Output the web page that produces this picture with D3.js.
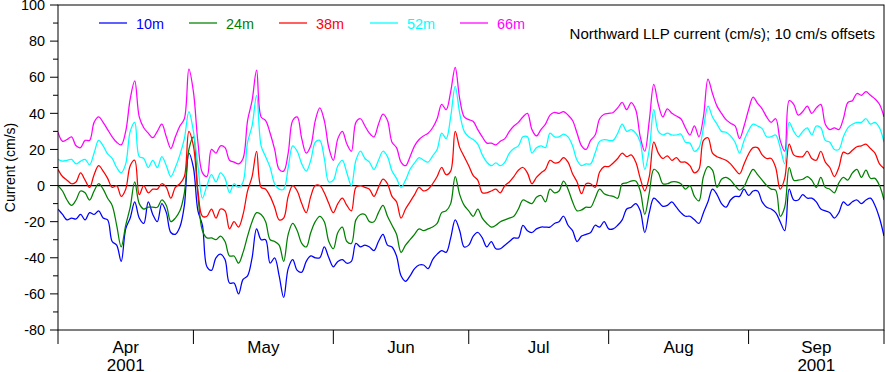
<!DOCTYPE html>
<html><head><meta charset="utf-8">
<script src="https://cdn.jsdelivr.net/npm/d3@7/dist/d3.min.js"></script>
<style>
body{margin:0;background:#fff}
text{font-family:"Liberation Sans",Arial,Helvetica,sans-serif}
</style>
</head><body>
<svg id="chart" width="885" height="372"></svg>
<script>
// Daily northward current as plotted (cm/s), each deeper series offset by +10 cm/s, starting 2001-04-01
const depths = ["10m","24m","38m","52m","66m"];
const colors = ["#0000ff","#008000","#ff0000","#00ffff","#ff00ff"];
const startDate = "2001-04-01";
const endDate = "2001-10-01";

const v10m = [
-13,-16,-19,-18,-18.5,-16,-19,-15,-16,-14,
-18,-19,-31,-33,-42,-24,-18,-9,-18,-21,
-9,-16,-20,-10,-15,-26,-27,-23,-11,18,
10,-14,-22,-45,-47,-40,-38,-41,-54,-54,
-60,-52,-50,-40,-24,-30,-30,-43,-40,-50,
-62,-46,-41,-47,-48,-42,-39,-40,-40,-34,
-40,-45,-42,-41,-43,-42,-32,-34,-33,-34,
-36,-31,-27,-33,-34,-39,-50,-53,-50,-46,
-44,-44,-46,-41,-38,-36,-37,-29,-19,-25,
-34,-33,-28,-26,-29,-34,-31,-35,-35,-33,
-31,-29,-29,-22,-25,-26,-24,-23,-23,-23,
-21,-20,-17,-22,-25,-31,-28,-27,-26,-22,
-23,-20,-24,-24,-22,-19,-13,-12,-10,-14,
-26,-15,-7,-9,-11.5,-11,-9,-12,-15,-17,
-17,-19,-21,-15,-9,-2,-5,-10,-12,-8,
-6,-6,-2,-5.5,-3,-3,-9,-12,-13,-15,
-20,-25,-2,-8,-8,-5,-7,-7,-9,-13,
-14,-15,-18,-15,-9,-11,-9,-8,-10,-8,
-7,-11,-18,-28];

const v24m = [
0,-3,-8,-11,-8,-3,-4,-8,-3,1,
-2,-7,-11,-22,-34,-22,-12,2,-10,-13,
-12,-12,-12,-8,-11,-20,-18,-14,-4,20,
27,-5,-25,-29,-29,-30,-28,-31,-39,-39,
-43,-37,-28,-20,-15,-16,-20,-30,-31,-33,
-42,-27,-21,-25,-32,-34,-26,-20,-17,-20,
-31,-35,-26,-23,-31,-32,-19,-16,-16,-20,
-20,-15,-11,-17,-22,-27,-37,-33,-30,-27,
-24,-25,-24,-23,-21,-15,-14,-10,5,-5,
-11,-14,-17,-13,-18,-21,-23,-22,-20,-19,
-18,-17,-13,-8,-9,-10,-6.5,-5.5,-9,-2,
-4,-3,2.5,-2,-9,-14,-13.5,-12,-12,-7,
-2,-4.5,-5.5,-6,-7,1,1.5,2.5,2.5,-3,
-16,-4,9,7,1,1,2,2,1,-2,
0,-6,-8.5,5,10.5,8.5,-1,3.5,4.5,3,
0,-2.5,-0.5,5,9,6,3,0,-2,-2.5,
-17,-12,10,3,3,3.5,5,3,-1,4.5,
-1,-2,-4,1.5,4.5,3,7,9,4.5,8.5,
4,4,0,-8];

const v38m = [
9,5,3,1,2,7,3,-1,6,11,
8,4,-1,0,-6,-2,11,14,-5,0,
-4,-2,-2,1,-1,-7,-1,1,5,30,
22,-3,-17,-17,-13,-18,-13,-14,-24,-20,
-23,-16,-3,5,19,-1,-2,-6,-12,-19,
-18,-6,0,-3,-10,-15,-6,0,0,-4,
-10,-15,-10,-7,-11,-14,-1,0,-1,-2,
-6,-1,3.5,1,-6,-9,-18,-13,-9,-5,
-1,-3,-2,1,5,10,6,8,30,21,
16,11,5.5,3,-4,-4,-3,-2,-4,0,
2,5,8.5,10,7,1,4.5,7,9,14,
12.5,13,15.5,13,6.5,2,-4.5,1,1,-1,
7.5,10.5,10.5,12.5,15,18,16,17,13,4,
-3,5,24,18,15,16.5,14,15.5,13,13,
11,7,9,25,26.5,18,16,15,14,12,
9,6.5,12,17.5,21,21,17,15,15,10,
-2,4,23,17,16,16,19,15,14,19,
13,10,5,10,18.5,17.5,19.5,21.5,22,23,
20.5,18,12,9.5];

const v52m = [
14.5,13.5,14,14.5,12,13.5,14.5,11.5,18,25,
22,17.5,15,10,7,12,30,35,16,15,
10,14,10,16,11,5,10,17,26,41,
30,11,-7,0,6,2,7,4,-4,1,
-1,2,24,33,50,22,16,10,1,-2,
-2,10,22,19,12,8,14,24,25,15,
2,3,11,14,7,0,14,19,15,13,
9,14,19,16,8,4,-1,3,9,12.5,
15.5,14,13,16.5,20,29,26,38,55,40,
30,27,25.5,23,17,13,11,12.5,11,13,
18,20.5,22,27,27,18,21,22,21,29,
27,27,28.5,27,22,14,11,12,12,18,
24.5,25.5,25,25,29,34,30,31,29,24,
9,20,42,30,28,29,28,28,28.5,24,
23.5,19,21,32,44,38,34,30,29.5,27.5,
24,18,25,30.5,34,33,31.5,27,27,28,
21,12,35,30,27,30,32,28,33,32,
25,24,20,20,27,32,34,35,35,37,
34,35,32,24];

const v66m = [
29.5,24.5,25.5,27,22,21,25,25,35,38,
35,31,27,24,22.5,30,48,58,38,32,
29,26.5,30,34,27,20.5,27,33,37,64.5,
52,24,7,5,20,18,22,21,14,13,
12,15,36,47,64,38,36,29,20,9,
8,18,36,38,26,18,22,36,43,36,
21,14,26,30,23,19,35,37,33,29,
27,34,39.5,36,24,21,13,11,16,22,
25.5,27.5,29,32,37,45,42,52,65.5,48,
38,36.5,35.5,31,27,23.5,23.5,22.5,24.5,26,
30,33,35,38,40,31,27.5,31,34,39,
40.5,40,41,39,36,29,22,20,25,28,
37,39.5,40,40.5,43,46,42,46,42,27,
19,36,56,45,38,42.5,40,38.5,37,32,
28,33,27,38,59,51,44,40,36.5,34.5,
33,26,33,42,49,45.5,42.5,38,35,37,
25,19,47,45,39,41,44,40,43,45,
34,31,32,31,37,46,47,51,50,52,
50,48,45,38];

const seriesValues = [v10m, v24m, v38m, v52m, v66m];
const yMajorTicks = [-80,-60,-40,-20,0,20,40,60,80,100];
const yMinorTicks = [-70,-50,-30,-10,10,30,50,70,90];
const monthLabels = ["Apr","May","Jun","Jul","Aug","Sep"];
const yearLabel = "2001";
const yearUnder = ["Apr","Sep"];
const titleText = "Northward LLP current (cm/s); 10 cm/s offsets";
const yTitle = "Current (cm/s)";

const svg = d3.select("#chart");
const W = 885, H = 372;
const L = 58, R = 884, T = 5, B = 330;
svg.append("rect").attr("width",W).attr("height",H).attr("fill","#fff");

const t0 = new Date(startDate + "T00:00:00Z"), t1 = new Date(endDate + "T00:00:00Z");
const x = d3.scaleUtc().domain([t0,t1]).range([L,R]);
const y = d3.scaleLinear().domain([-80,100]).range([B,T]);
const dayDate = i => d3.utcDay.offset(t0, i);

// zero line
svg.append("line").attr("x1",L).attr("x2",R).attr("y1",y(0)).attr("y2",y(0))
  .attr("stroke","#000").attr("stroke-width",1.2);

// series
const lineGen = d3.line().x((d,i)=>x(dayDate(i))).y(d=>y(d)).curve(d3.curveCatmullRom.alpha(0.5));
svg.append("clipPath").attr("id","clp").append("rect")
  .attr("x",L).attr("y",T).attr("width",R-L).attr("height",B-T);
seriesValues.forEach((vals,k)=>{
  svg.append("path").attr("d",lineGen(vals)).attr("fill","none")
    .attr("stroke",colors[k]).attr("stroke-width",1.25).attr("clip-path","url(#clp)");
});

// frame
svg.append("rect").attr("x",L).attr("y",T).attr("width",R-L).attr("height",B-T)
  .attr("fill","none").attr("stroke","#000").attr("stroke-width",1);

// y axis
const yAxis = svg.append("g");
yMajorTicks.forEach(v=>{
  yAxis.append("line").attr("x1",L-8).attr("x2",L).attr("y1",y(v)).attr("y2",y(v)).attr("stroke","#000");
  yAxis.append("text").attr("x",L-13).attr("y",y(v)).attr("dy","0.36em")
    .attr("text-anchor","end").attr("font-size",14.4).attr("fill","#000").text(v);
});
yMinorTicks.forEach(v=>{
  yAxis.append("line").attr("x1",L-5).attr("x2",L).attr("y1",y(v)).attr("y2",y(v)).attr("stroke","#000");
});
svg.append("text").attr("transform",`translate(15,${(T+B)/2}) rotate(-90)`)
  .attr("text-anchor","middle").attr("font-size",14).attr("fill","#000").text(yTitle);

// x axis: month boundaries and labels
const months = d3.utcMonth.range(t0, d3.utcDay.offset(t1,1));
months.forEach(m=>{
  svg.append("line").attr("x1",x(m)).attr("x2",x(m)).attr("y1",B).attr("y2",B+14).attr("stroke","#000");
});
monthLabels.forEach((lab,i)=>{
  const a = d3.utcMonth.offset(t0,i), b = d3.utcMonth.offset(t0,i+1);
  const cx = (x(a)+x(b))/2;
  svg.append("text").attr("x",cx).attr("y",352.5).attr("text-anchor","middle")
    .attr("font-size",17).attr("fill","#000").text(lab);
  if (yearUnder.includes(lab)) {
    svg.append("text").attr("x",cx).attr("y",370.5).attr("text-anchor","middle")
      .attr("font-size",17).attr("fill","#000").text(yearLabel);
  }
});

// legend
const legX = [99,189,279,370,460];
depths.forEach((d,k)=>{
  svg.append("line").attr("x1",legX[k]).attr("x2",legX[k]+28).attr("y1",23).attr("y2",23)
    .attr("stroke",colors[k]).attr("stroke-width",1.25);
  svg.append("text").attr("x",legX[k]+37).attr("y",29.3).attr("font-size",14.4)
    .attr("fill",colors[k]).text(d);
});

// title
svg.append("text").attr("x",875).attr("y",39).attr("text-anchor","end")
  .attr("font-size",15).attr("fill","#000").text(titleText);
</script>
</body></html>
